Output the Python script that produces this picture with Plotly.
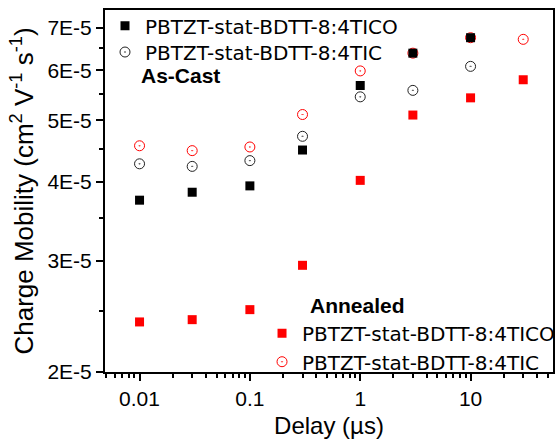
import plotly.graph_objects as go

delay_ascast = [0.01, 0.03, 0.1, 0.3, 1, 3, 10]
ascast_4tico = [3.74e-5, 3.85e-5, 3.94e-5, 4.49e-5, 5.68e-5, 6.39e-5, 6.76e-5]
ascast_4tic = [4.27e-5, 4.23e-5, 4.32e-5, 4.72e-5, 5.45e-5, 5.58e-5, 6.09e-5]

delay_annealed = [0.01, 0.03, 0.1, 0.3, 1, 3, 10, 30]
annealed_4tico = [2.40e-5, 2.42e-5, 2.51e-5, 2.95e-5, 4.02e-5, 5.10e-5, 5.43e-5, 5.80e-5]
annealed_4tic = [4.56e-5, 4.48e-5, 4.54e-5, 5.11e-5, 5.99e-5, 6.39e-5, 6.76e-5, 6.72e-5]

name_tico = "PBTZT-stat-BDTT-8:4TICO"
name_tic = "PBTZT-stat-BDTT-8:4TIC"

y_tickvals = [2e-5, 3e-5, 4e-5, 5e-5, 6e-5, 7e-5]
y_ticktext = ["2E-5", "3E-5", "4E-5", "5E-5", "6E-5", "7E-5"]
y_minor = [2.5e-5, 3.5e-5, 4.5e-5, 5.5e-5, 6.5e-5]
x_tickvals = [0.01, 0.1, 1, 10]
x_ticktext = ["0.01", "0.1", "1", "10"]
x_minor = [m * d for d in [0.001, 0.01, 0.1, 1, 10] for m in range(2, 10)]

fig = go.Figure()
fig.add_trace(go.Scatter(x=delay_annealed, y=annealed_4tic, mode="markers", name=name_tic,
                         legend="legend4",
                         marker=dict(symbol="circle-open-dot", size=10, color="red", line=dict(width=1))))
fig.add_trace(go.Scatter(x=delay_annealed, y=annealed_4tico, mode="markers", name=name_tico,
                         legend="legend3",
                         marker=dict(symbol="square", size=9, color="red")))
fig.add_trace(go.Scatter(x=delay_ascast, y=ascast_4tico, mode="markers", name=name_tico,
                         legend="legend",
                         marker=dict(symbol="square", size=9, color="black")))
fig.add_trace(go.Scatter(x=delay_ascast, y=ascast_4tic, mode="markers", name=name_tic,
                         legend="legend2",
                         marker=dict(symbol="circle-open-dot", size=10, color="#222222", line=dict(width=1))))

axis_font = dict(family="Liberation Sans, Arial", size=21, color="black")
legend_font = dict(family="DejaVu Sans", size=20, color="black")


def legend_box(x, y):
    return dict(x=x, y=y, xanchor="left", yanchor="top", bgcolor="rgba(0,0,0,0)", font=legend_font)


fig.update_layout(
    width=556, height=448,
    margin=dict(l=105, r=3, t=10, b=76, autoexpand=False),
    plot_bgcolor="white", paper_bgcolor="white",
    showlegend=True,
    legend=legend_box(0.0, 1.0105),
    legend2=legend_box(0.0, 0.9378),
    legend3=legend_box(0.3505, 0.1608),
    legend4=legend_box(0.3505, 0.0823),
    xaxis=dict(type="log", range=[-2.313, 1.747], showline=True, linewidth=2, linecolor="black",
               mirror=True, showgrid=False, zeroline=False,
               tickvals=x_tickvals, ticktext=x_ticktext, ticks="outside", ticklen=7, tickwidth=1.5,
               tickcolor="black", tickfont=axis_font,
               minor=dict(tickvals=x_minor, ticks="outside", ticklen=4, tickwidth=1.5, tickcolor="black"),
               title=dict(text="Delay (µs)", font=dict(family="Liberation Sans, Arial", size=24, color="black"),
                          standoff=8)),
    yaxis=dict(type="log", range=[-4.699, -4.1262], showline=True, linewidth=2, linecolor="black",
               mirror=True, showgrid=False, zeroline=False,
               tickvals=y_tickvals, ticktext=y_ticktext, ticks="outside", ticklen=7, tickwidth=1.5,
               tickcolor="black", tickfont=axis_font,
               minor=dict(tickvals=y_minor, ticks="outside", ticklen=4, tickwidth=1.5, tickcolor="black"),
               title=dict(text="Charge Mobility (cm<sup>2</sup> V<sup>-1</sup> s<sup>-1</sup>)",
                          font=dict(family="Liberation Sans, Arial", size=26, color="black"), standoff=6)),
    annotations=[
        dict(text="<b>As-Cast</b>", xref="paper", yref="paper", x=(139 - 105) / 448, y=1 - (76 - 10) / 362,
             xanchor="left", yanchor="middle", showarrow=False,
             font=dict(family="Liberation Sans, Arial", size=21, color="black")),
        dict(text="<b>Annealed</b>", xref="paper", yref="paper", x=(308 - 105) / 448, y=1 - (305 - 10) / 362,
             xanchor="left", yanchor="middle", showarrow=False,
             font=dict(family="Liberation Sans, Arial", size=21, color="black")),
    ],
)

fig.write_html("out.html")
